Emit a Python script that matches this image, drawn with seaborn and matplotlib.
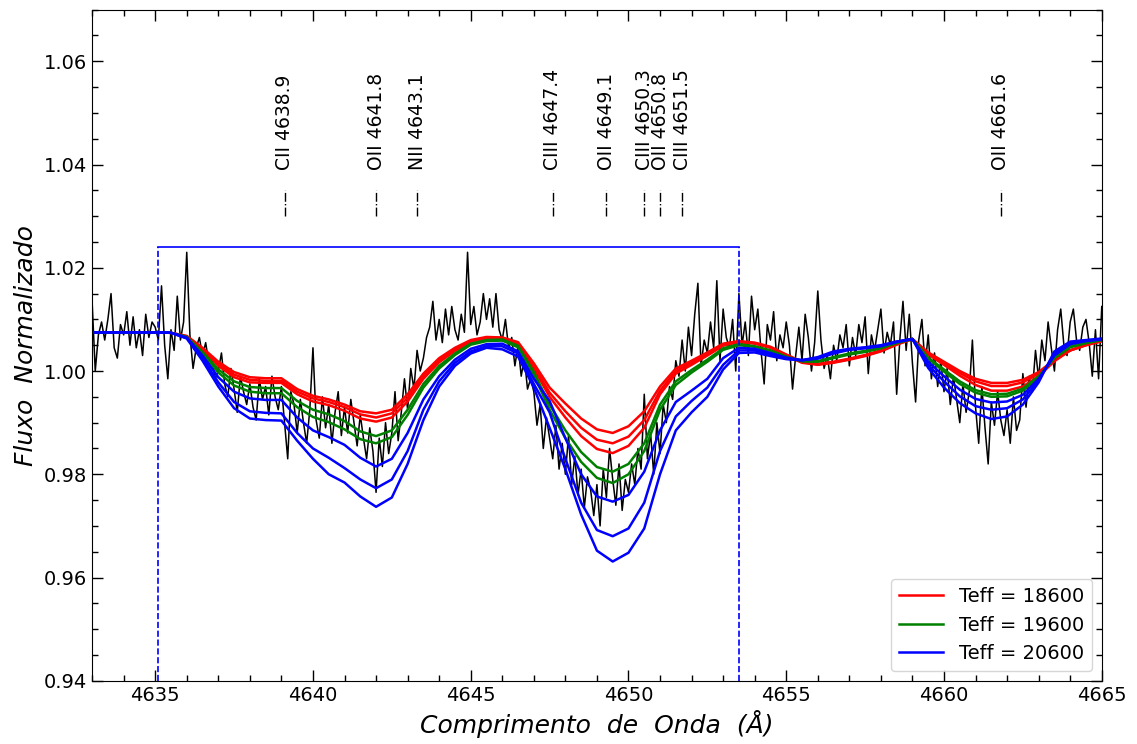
import numpy as np
import pandas as pd
import matplotlib
matplotlib.use("Agg")
import matplotlib.pyplot as plt
import seaborn as sns
from matplotlib.ticker import MultipleLocator, FormatStrFormatter
from matplotlib.lines import Line2D

# observed spectrum (0.1 A sampling)
obs_wave = np.round(np.arange(4633.0, 4665.05, 0.1), 2)
obs_flux = [
    1.0135, 1.0000, 1.0070, 1.0095, 1.0060, 1.0100, 1.0150, 1.0045, 1.0025, 1.0090,
    1.0070, 1.0115, 1.0050, 1.0105, 1.0045, 1.0080, 1.0030, 1.0110, 1.0065, 1.0095,
    1.0085, 1.0060, 1.0165, 1.0050, 0.9985, 1.0080, 1.0040, 1.0145, 1.0060, 1.0095,
    1.0230, 1.0070, 1.0005, 1.0045, 1.0065, 1.0030, 1.0055, 1.0015, 1.0020, 0.9985,
    1.0000, 1.0035, 0.9975, 0.9950, 1.0005, 0.9965, 0.9920, 0.9990, 0.9960, 0.9935,
    0.9975, 0.9930, 0.9905, 0.9985, 0.9945, 0.9970, 0.9915, 0.9990, 0.9950, 0.9925,
    0.9970, 0.9900, 0.9830, 0.9960, 0.9935, 0.9880, 0.9945, 0.9900, 0.9860, 0.9925,
    1.0045, 0.9905, 0.9870, 0.9950, 0.9890, 0.9935, 0.9860, 0.9920, 0.9960, 0.9875,
    0.9930, 0.9880, 0.9945, 0.9900, 0.9855, 0.9915, 0.9870, 0.9830, 0.9890, 0.9845,
    0.9765, 0.9870, 0.9815, 0.9900, 0.9840, 0.9880, 0.9960, 0.9865, 0.9920, 0.9985,
    0.9925, 1.0005, 0.9965, 1.0040, 1.0000, 1.0025, 1.0065, 1.0085, 1.0135, 1.0060,
    1.0100, 1.0055, 1.0120, 1.0070, 1.0125, 1.0080, 1.0060, 1.0110, 1.0075, 1.0230,
    1.0090, 1.0125, 1.0070, 1.0095, 1.0150, 1.0100, 1.0140, 1.0085, 1.0150, 1.0080,
    1.0060, 1.0100, 1.0045, 1.0065, 1.0010, 1.0050, 0.9990, 1.0025, 0.9965, 0.9985,
    0.9960, 0.9895, 0.9935, 0.9850, 0.9910, 0.9870, 0.9830, 0.9895, 0.9810, 0.9860,
    0.9800, 0.9875, 0.9780, 0.9835, 0.9760, 0.9810, 0.9735, 0.9795, 0.9770, 0.9720,
    0.9780, 0.9700, 0.9810, 0.9755, 0.9850, 0.9790, 0.9740, 0.9820, 0.9730, 0.9790,
    0.9765, 0.9820, 0.9780, 0.9850, 0.9810, 0.9955, 0.9830, 0.9880, 0.9800, 0.9900,
    0.9840, 0.9935, 0.9900, 0.9970, 0.9945, 1.0020, 0.9990, 1.0060, 1.0000, 1.0085,
    1.0030, 1.0110, 1.0170, 1.0010, 1.0060, 1.0035, 1.0095, 1.0045, 1.0175, 1.0020,
    1.0120, 1.0065, 1.0045, 1.0100, 1.0000, 1.0150, 1.0050, 1.0095, 1.0030, 1.0145,
    1.0080, 1.0120, 1.0040, 0.9975, 1.0090, 1.0060, 1.0115, 1.0020, 1.0070, 1.0045,
    1.0095, 1.0050, 0.9965, 1.0030, 1.0085, 1.0020, 1.0110, 1.0065, 1.0000, 1.0055,
    1.0155, 1.0060, 1.0005, 1.0030, 0.9985, 1.0050, 1.0020, 1.0070, 1.0045, 1.0090,
    1.0010, 1.0065, 1.0030, 1.0090, 1.0055, 1.0105, 0.9995, 1.0070, 1.0040, 1.0080,
    1.0120, 1.0035, 1.0075, 1.0050, 1.0095, 0.9955, 1.0060, 1.0135, 1.0040, 1.0110,
    1.0015, 0.9940, 1.0060, 1.0100, 1.0010, 1.0070, 0.9985, 1.0035, 0.9970, 1.0020,
    0.9960, 1.0005, 0.9935, 0.9990, 0.9945, 0.9900, 0.9975, 0.9920, 0.9960, 1.0060,
    0.9930, 0.9860, 0.9970, 0.9890, 0.9820, 0.9940, 0.9895, 0.9960, 0.9905, 0.9875,
    0.9925, 0.9860, 0.9950, 0.9885, 0.9905, 0.9995, 0.9930, 0.9990, 0.9960, 1.0040,
    0.9985, 1.0060, 1.0020, 1.0095, 1.0045, 1.0000, 1.0080, 1.0120, 1.0050, 1.0030,
    1.0095, 1.0120, 1.0060, 1.0040, 1.0085, 1.0100, 1.0055, 0.9990, 1.0080, 0.9985,
    1.0125,
]

# synthetic spectra (0.5 A grid)
model_wave = np.round(np.arange(4633.0, 4665.05, 0.5), 2)
red_1 = [1.0075, 1.0075, 1.0075, 1.0075, 1.0075,
         1.0074, 1.0068, 1.0045, 1.0018, 0.9998, 0.9988, 0.9986, 0.9986, 0.9965, 0.9952, 0.9945,
         0.9935, 0.9922, 0.9918, 0.9925, 0.9955, 0.9995, 1.0025, 1.0045, 1.0060, 1.0066,
         1.0065, 1.0056, 1.0015, 0.9968, 0.9937, 0.9908, 0.9887, 0.9880, 0.9893, 0.9922,
         0.9970, 1.0005, 1.0020, 1.0036, 1.0053, 1.0058,
         1.0055, 1.0047, 1.0032, 1.0018, 1.0014, 1.0018, 1.0024, 1.0031, 1.0040, 1.0053,
         1.0062, 1.0036, 1.0018, 1.0000, 0.9985, 0.9977, 0.9977, 0.9983, 0.9998, 1.0022,
         1.0040, 1.0050, 1.0058]
red_2 = [1.0075, 1.0075, 1.0075, 1.0075, 1.0075,
         1.0074, 1.0067, 1.0043, 1.0014, 0.9993, 0.9983, 0.9981, 0.9981, 0.9960, 0.9947, 0.9940,
         0.9930, 0.9916, 0.9910, 0.9918, 0.9948, 0.9990, 1.0021, 1.0042, 1.0058, 1.0064,
         1.0064, 1.0054, 1.0010, 0.9958, 0.9922, 0.9890, 0.9867, 0.9860, 0.9873, 0.9905,
         0.9962, 1.0000, 1.0016, 1.0033, 1.0051, 1.0057,
         1.0054, 1.0046, 1.0031, 1.0017, 1.0013, 1.0017, 1.0023, 1.0030, 1.0039, 1.0052,
         1.0062, 1.0034, 1.0015, 0.9996, 0.9980, 0.9971, 0.9971, 0.9978, 0.9995, 1.0021,
         1.0040, 1.0050, 1.0058]
red_3 = [1.0075, 1.0075, 1.0075, 1.0075, 1.0075,
         1.0074, 1.0067, 1.0041, 1.0010, 0.9988, 0.9978, 0.9977, 0.9977, 0.9955, 0.9941, 0.9934,
         0.9923, 0.9908, 0.9902, 0.9910, 0.9941, 0.9985, 1.0017, 1.0039, 1.0056, 1.0063,
         1.0063, 1.0052, 1.0005, 0.9950, 0.9910, 0.9874, 0.9849, 0.9841, 0.9855, 0.9890,
         0.9955, 0.9995, 1.0012, 1.0030, 1.0049, 1.0056,
         1.0053, 1.0045, 1.0030, 1.0016, 1.0012, 1.0016, 1.0022, 1.0029, 1.0038, 1.0051,
         1.0062, 1.0032, 1.0012, 0.9991, 0.9973, 0.9962, 0.9962, 0.9970, 0.9990, 1.0019,
         1.0040, 1.0051, 1.0058]
green_1 = [1.0075, 1.0075, 1.0075, 1.0075, 1.0075,
           1.0074, 1.0066, 1.0037, 1.0003, 0.9980, 0.9969, 0.9967, 0.9967, 0.9942, 0.9925, 0.9916,
           0.9903, 0.9883, 0.9874, 0.9885, 0.9925, 0.9975, 1.0010, 1.0034, 1.0053, 1.0060,
           1.0061, 1.0049, 0.9998, 0.9935, 0.9885, 0.9843, 0.9814, 0.9805, 0.9820, 0.9860,
           0.9935, 0.9980, 1.0002, 1.0022, 1.0044, 1.0052,
           1.0048, 1.0040, 1.0028, 1.0019, 1.0018, 1.0025, 1.0032, 1.0037, 1.0044, 1.0054,
           1.0062, 1.0026, 1.0003, 0.9980, 0.9963, 0.9955, 0.9956, 0.9966, 0.9990, 1.0025,
           1.0046, 1.0054, 1.0060]
green_2 = [1.0075, 1.0075, 1.0075, 1.0075, 1.0075,
           1.0074, 1.0066, 1.0034, 0.9997, 0.9972, 0.9960, 0.9957, 0.9957, 0.9930, 0.9911, 0.9901,
           0.9887, 0.9868, 0.9860, 0.9872, 0.9915, 0.9968, 1.0005, 1.0031, 1.0051, 1.0058,
           1.0059, 1.0046, 0.9993, 0.9925, 0.9870, 0.9824, 0.9793, 0.9783, 0.9800, 0.9845,
           0.9925, 0.9973, 0.9997, 1.0018, 1.0041, 1.0050,
           1.0047, 1.0039, 1.0027, 1.0019, 1.0019, 1.0027, 1.0034, 1.0039, 1.0045, 1.0055,
           1.0062, 1.0024, 0.9999, 0.9975, 0.9958, 0.9950, 0.9951, 0.9962, 0.9988, 1.0026,
           1.0048, 1.0055, 1.0060]
blue_1 = [1.0075, 1.0075, 1.0075, 1.0075, 1.0075,
          1.0074, 1.0065, 1.0030, 0.9988, 0.9960, 0.9947, 0.9944, 0.9944, 0.9910, 0.9885, 0.9872,
          0.9857, 0.9832, 0.9815, 0.9830, 0.9880, 0.9945, 0.9990, 1.0022, 1.0043, 1.0052,
          1.0053, 1.0038, 0.9985, 0.9942, 0.9870, 0.9800, 0.9757, 0.9747, 0.9760, 0.9805,
          0.9885, 0.9940, 0.9962, 0.9985, 1.0025, 1.0045,
          1.0043, 1.0035, 1.0026, 1.0021, 1.0024, 1.0034, 1.0041, 1.0044, 1.0048, 1.0056,
          1.0062, 1.0018, 0.9990, 0.9964, 0.9946, 0.9939, 0.9941, 0.9954, 0.9985, 1.0030,
          1.0052, 1.0058, 1.0061]
blue_2 = [1.0075, 1.0075, 1.0075, 1.0075, 1.0075,
          1.0074, 1.0064, 1.0025, 0.9978, 0.9940, 0.9922, 0.9919, 0.9918, 0.9880, 0.9850, 0.9832,
          0.9812, 0.9790, 0.9773, 0.9790, 0.9845, 0.9925, 0.9980, 1.0016, 1.0038, 1.0048,
          1.0048, 1.0034, 0.9975, 0.9920, 0.9830, 0.9745, 0.9692, 0.9680, 0.9695, 0.9745,
          0.9845, 0.9912, 0.9942, 0.9968, 1.0012, 1.0040,
          1.0040, 1.0032, 1.0024, 1.0021, 1.0025, 1.0036, 1.0042, 1.0045, 1.0049, 1.0057,
          1.0062, 1.0012, 0.9980, 0.9951, 0.9932, 0.9925, 0.9928, 0.9945, 0.9982, 1.0034,
          1.0055, 1.0059, 1.0062]
blue_3 = [1.0075, 1.0075, 1.0075, 1.0075, 1.0075,
          1.0074, 1.0063, 1.0020, 0.9970, 0.9928, 0.9908, 0.9905, 0.9904, 0.9865, 0.9830, 0.9800,
          0.9784, 0.9757, 0.9737, 0.9755, 0.9820, 0.9905, 0.9970, 1.0010, 1.0034, 1.0045,
          1.0042, 1.0028, 0.9968, 0.9890, 0.9810, 0.9722, 0.9652, 0.9631, 0.9648, 0.9695,
          0.9800, 0.9885, 0.9920, 0.9950, 1.0003, 1.0035,
          1.0036, 1.0029, 1.0023, 1.0021, 1.0027, 1.0038, 1.0043, 1.0046, 1.0050, 1.0057,
          1.0062, 1.0006, 0.9968, 0.9938, 0.9918, 0.9907, 0.9912, 0.9935, 0.9978, 1.0038,
          1.0057, 1.0060, 1.0063]

teff_values = [18600, 19600, 20600]
teff_colors = ["red", "green", "blue"]

# line identifications
line_labels = ["CII 4638.9", "OII 4641.8", "NII 4643.1", "CIII 4647.4", "OII 4649.1",
               "CIII 4650.3", "OII 4650.8", "CIII 4651.5", "OII 4661.6"]
line_pos = [4639.1, 4642.0, 4643.3, 4647.6, 4649.3, 4650.5, 4651.0, 4651.7, 4661.8]

# fitting window
win_lo, win_hi, win_top = 4635.1, 4653.5, 1.024


def build_models():
    curves = [("r1", 18600, red_1), ("r2", 18600, red_2), ("r3", 18600, red_3),
              ("g1", 19600, green_1), ("g2", 19600, green_2),
              ("b1", 20600, blue_1), ("b2", 20600, blue_2), ("b3", 20600, blue_3)]
    frames = []
    for name, teff, vals in curves:
        frames.append(pd.DataFrame({"wave": model_wave, "flux": vals,
                                    "teff": teff, "curve": name}))
    return pd.concat(frames, ignore_index=True)


def main():
    fig = plt.figure(figsize=(11.37, 7.44), dpi=100)
    ax = fig.add_axes([0.081, 0.085, 0.888, 0.902])

    sns.lineplot(x=obs_wave, y=obs_flux, color="black", lw=1.1,
                 estimator=None, ax=ax)

    models = build_models()
    palette = dict(zip(teff_values, teff_colors))
    sns.lineplot(data=models, x="wave", y="flux", hue="teff", units="curve",
                 estimator=None, palette=palette, lw=1.8, sort=False,
                 legend=False, ax=ax)

    # fitting window box
    ax.plot([win_lo, win_hi], [win_top, win_top], color="blue", lw=1.2)
    ax.vlines([win_lo, win_hi], 0.94, win_top, colors="blue",
              linestyles="--", lw=1.2)

    # line markers and labels
    for lab, pos in zip(line_labels, line_pos):
        ax.plot([pos, pos], [1.030, 1.035], color="black", ls="-.", lw=1.0)
        ax.text(pos, 1.039, lab, rotation=90, ha="center", va="bottom",
                fontsize=13.5)

    ax.set_xlim(4633, 4665)
    ax.set_ylim(0.94, 1.07)
    ax.xaxis.set_major_locator(MultipleLocator(5))
    ax.xaxis.set_minor_locator(MultipleLocator(1))
    ax.yaxis.set_major_locator(MultipleLocator(0.02))
    ax.yaxis.set_minor_locator(MultipleLocator(0.005))
    ax.xaxis.set_major_formatter(FormatStrFormatter("%d"))
    ax.yaxis.set_major_formatter(FormatStrFormatter("%.2f"))
    ax.tick_params(which="both", direction="in", top=True, right=True,
                   labelsize=14)
    ax.tick_params(which="major", length=8, width=1)
    ax.tick_params(which="minor", length=4.5, width=1)

    ax.set_xlabel("Comprimento  de  Onda  (Å)", fontsize=18, style="italic")
    ax.set_ylabel("Fluxo  Normalizado", fontsize=18, style="italic")

    handles = [Line2D([0], [0], color=c, lw=1.8) for c in teff_colors]
    labels = [f"Teff = {t}" for t in teff_values]
    ax.legend(handles, labels, loc="lower right", fontsize=14,
              handlelength=2.3)

    fig.savefig("out.png", dpi=100)


if __name__ == "__main__":
    main()
